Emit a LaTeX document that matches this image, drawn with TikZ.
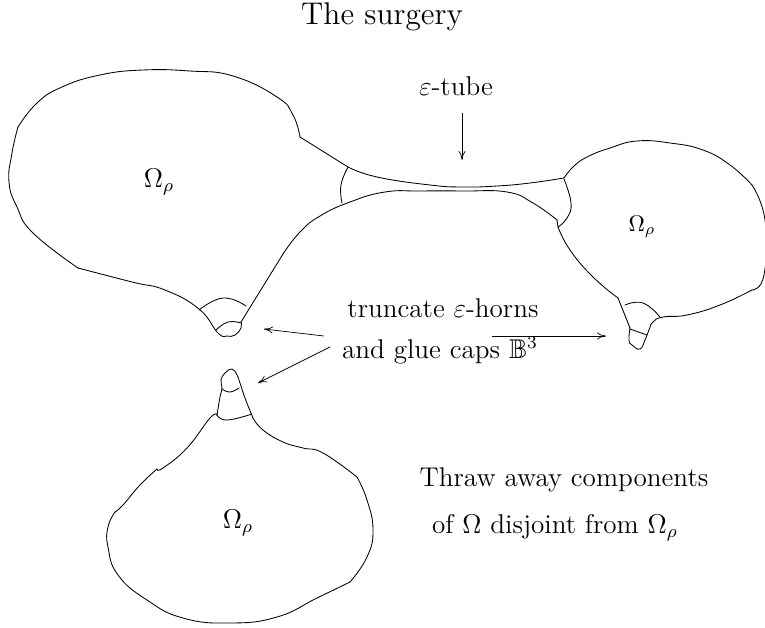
\documentclass[tikz,border=0pt]{standalone}
\usepackage{amssymb}
\usetikzlibrary{arrows.meta}
\tikzset{
  outline/.style={line width=0.85pt,line join=round,line cap=round},
  pointer/.style={line width=0.7pt,-{To[length=9pt,width=7pt]}},
  titletext/.style={font=\fontsize{14.4}{17}\selectfont,scale=2.18,inner sep=0pt,anchor=base},
  bigtext/.style={font=\fontsize{12}{14}\selectfont,scale=2.26,inner sep=0pt,anchor=base},
  smalltext/.style={font=\fontsize{10}{12}\selectfont,scale=2.26,inner sep=0pt,anchor=base},
}
\newcommand{\crv}[1]{plot[smooth,tension=0.8] coordinates {#1}}
\begin{document}
\begin{tikzpicture}[x=1pt,y=-1pt]
\useasboundingbox (0,0) rectangle (765,627);
% left body
\draw[outline] \crv{(300,137)(293,115)(277,97)(233,76)(190,71)(143,70)(100,75)(62,87)(37,103)(18,127)};
\draw[outline] \crv{(18,127)(12,153)(9,182)(17,207)(33,233)(78,268)};
\draw[outline] \crv{(78,268)(132,282)(165,290)(199,309)(218,333)(227,336)(235,335)(241,328)(241,322)};
\draw[outline] (241,322) -- (283,254);
% tube, lower side
\draw[outline] \crv{(283,254)(300,232)(320,216)(350,202)(385,192)(420,191)(463,191)(507,192)(533,203)(557,220)};
\draw[outline] (557,220) -- (558,227);
% right body
\draw[outline] \crv{(558,227)(570,250)(593,277)(618,298)};
\draw[outline] \crv{(618,298)(630,328)};
\draw[outline] \crv{(630,328)(629,340)(632,345)(640,349)(645,340)(649,330)(653,322)(663,317)(687,315)(720,305)(752,290)};
\draw[outline] \crv{(752,290)(764,275)(765,220)(752,185)};
\draw[outline] \crv{(752,185)(730,165)(703,150)(670,143)(637,141)(610,148)(587,157)(573,167)(564,178)};
% tube, upper side
\draw[outline] \crv{(564,178)(530,183)(497,186)(463,187)(430,185)(377,177)(348,167)};
\draw[outline] (348,167) -- (300,137);
% necks and horns
\draw[outline] \crv{(348,167)(341,185)(342,203)};
\draw[outline] \crv{(564,179)(571,203)(567,218)(558,227)};
\draw[outline] \crv{(199,310)(223,298)(246,306)};
\draw[outline] \crv{(216,330)(228,322)(241,323)};
\draw[outline] \crv{(625,305)(643,303)(660,317)};
\draw[outline] (630,329) -- (647,335);
% bottom body
\draw[outline] \crv{(217,415)(220,397)(222,388)(221,380)(225,373)(232,369)(237,375)(240,383)(245,398)(253,418)};
\draw[outline] \crv{(253,418)(263,430)(283,442)(303,448)(323,453)(357,477)};
\draw[outline] \crv{(357,477)(367,500)(373,530)(367,557)(350,582)};
\draw[outline] \crv{(350,582)(317,598)(277,617)(230,623)(183,618)(147,600)(118,575)(108,547)(108,527)(115,512)};
\draw[outline] \crv{(115,512)(123,505)(140,485)(157,469)};
\draw[outline] \crv{(157,469)(163,468)(187,448)(210,418)(217,415)};
\draw[outline] \crv{(222,389)(230,392)(239,388)};
\draw[outline] \crv{(217,415)(227,420)(252,414)};
% texts
\node[titletext] (title) at (382,24) {The surgery};
\node[bigtext] (tube) at (456,95) {$\varepsilon$-tube};
\node[bigtext] (om1) at (159,187) {$\Omega_\rho$};
\node[smalltext] (om2) at (642,231) {$\Omega_\rho$};
\node[bigtext] (om3) at (238,528) {$\Omega_\rho$};
\node[bigtext] (trunc) at (443,317) {truncate $\varepsilon$-horns};
\node[bigtext] (glue) at (440,358) {and glue caps $\mathbb{B}^3$};
\node[bigtext] (thraw) at (564,486) {Thraw away components};
\node[bigtext] (disj) at (555,533) {of $\Omega$ disjoint from $\Omega_\rho$};
% arrows
\coordinate (a1s) at (462,113); \coordinate (a1e) at (462,160);
\coordinate (a2s) at (324,336); \coordinate (a2e) at (264,329);
\coordinate (a3s) at (330,347); \coordinate (a3e) at (258,383);
\coordinate (a4s) at (492,336); \coordinate (a4e) at (606,336);
\draw[pointer] (a1s) -- (a1e);
\draw[pointer] (a2s) -- (a2e);
\draw[pointer] (a3s) -- (a3e);
\draw[pointer] (a4s) -- (a4e);
\end{tikzpicture}
\end{document}
